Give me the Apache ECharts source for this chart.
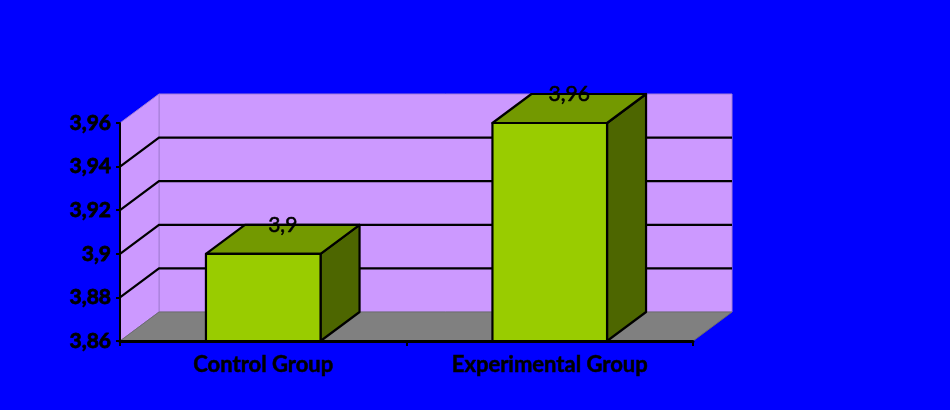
<!DOCTYPE html>
<html>
<head>
<meta charset="utf-8">
<script src="https://cdn.jsdelivr.net/npm/echarts@6/dist/echarts.min.js"></script>
<style>
  html, body { margin: 0; padding: 0; background: #0000FF; }
  #chart { width: 950px; height: 410px; }
</style>
</head>
<body>
<div id="chart"></div>
<script>
// Group means
const categories = ['Control Group', 'Experimental Group'];
const meanValues = [3.9, 3.96];

// Value axis range and the interior gridlines drawn on the walls
const yMin = 3.86;
const yMax = 3.96;
const yStep = 0.02;
const gridValues = [3.88, 3.90, 3.92, 3.94];

// Depth of the 3D box (screen offset of the back plane)
const DX = 39;
const DY = -29;
const FONT = 'Lato, "Open Sans", sans-serif';

const fmt = v => Number(v).toFixed(2).replace(/0+$/, '').replace(/\.$/, '').replace('.', ',');

const chart = echarts.init(document.getElementById('chart'));

chart.setOption({
  backgroundColor: '#0000FF',
  animation: false,
  grid: { left: 120, right: 257, top: 123, bottom: 69, containLabel: false },
  xAxis: {
    type: 'category',
    data: categories,
    z: 10,
    axisLine: { show: true, lineStyle: { color: '#000', width: 3 } },
    axisTick: { show: true, length: 5, lineStyle: { color: '#000', width: 2 } },
    axisLabel: { color: '#000', fontFamily: FONT, fontWeight: 'bold', fontSize: 22, margin: 13,
                 textBorderColor: '#000', textBorderWidth: 0.5 },
    splitLine: { show: false }
  },
  yAxis: {
    type: 'value',
    min: yMin,
    max: yMax,
    interval: yStep,
    z: 10,
    axisLine: { show: true, lineStyle: { color: '#000', width: 2 } },
    axisTick: { show: true, length: 4, lineStyle: { color: '#000', width: 2 } },
    axisLabel: { color: '#000', fontFamily: FONT, fontWeight: 'bold', fontSize: 21, margin: 9, formatter: fmt,
                 textBorderColor: '#000', textBorderWidth: 0.8 },
    splitLine: { show: false }
  },
  series: [
    {
      // side wall, back wall and floor
      type: 'custom',
      z: 1,
      silent: true,
      data: [[0, yMin]],
      renderItem: function (params, api) {
        const cs = params.coordSys;
        const x0 = cs.x, x1 = cs.x + cs.width;
        const yT = api.coord([0, yMax])[1];
        const yB = api.coord([0, yMin])[1];
        const edge = { stroke: '#A47FD6', lineWidth: 1 };
        return {
          type: 'group',
          children: [
            { type: 'polygon', shape: { points: [[x0 + DX, yT + DY], [x1 + DX, yT + DY], [x1 + DX, yB + DY], [x0 + DX, yB + DY]] },
              style: Object.assign({ fill: '#CC99FF' }, edge) },
            { type: 'polygon', shape: { points: [[x0, yT], [x0 + DX, yT + DY], [x0 + DX, yB + DY], [x0, yB]] },
              style: Object.assign({ fill: '#CC99FF' }, edge) },
            { type: 'polygon', shape: { points: [[x0, yB], [x0 + DX, yB + DY], [x1 + DX, yB + DY], [x1, yB]] },
              style: { fill: '#808080', stroke: '#6E6E6E', lineWidth: 1 } }
          ]
        };
      }
    },
    {
      // gridlines across the side and back walls
      type: 'custom',
      z: 2,
      silent: true,
      data: gridValues.map(v => [0, v]),
      renderItem: function (params, api) {
        const cs = params.coordSys;
        const x0 = cs.x, x1 = cs.x + cs.width;
        const y = api.coord([0, api.value(1)])[1];
        return {
          type: 'polyline',
          shape: { points: [[x0, y], [x0 + DX, y + DY], [x1 + DX, y + DY]] },
          style: { stroke: '#000', lineWidth: 2.2, fill: null }
        };
      }
    },
    {
      // 3D bars with value labels
      type: 'custom',
      z: 3,
      data: meanValues.map((v, i) => [i, v]),
      encode: { x: 0, y: 1 },
      renderItem: function (params, api) {
        const val = api.value(1);
        const top = api.coord([api.value(0), val]);
        const base = api.coord([api.value(0), yMin]);
        const w = api.size([1, 0])[0] * 0.4;
        const xl = top[0] - w / 2, xr = top[0] + w / 2;
        const yt = top[1], yb = base[1];
        const line = { stroke: '#000', lineWidth: 2.2, lineJoin: 'round' };
        return {
          type: 'group',
          children: [
            { type: 'polygon', shape: { points: [[xr, yt], [xr + DX, yt + DY], [xr + DX, yb + DY], [xr, yb]] },
              style: Object.assign({ fill: '#4D6600' }, line) },
            { type: 'polygon', shape: { points: [[xl, yt], [xl + DX, yt + DY], [xr + DX, yt + DY], [xr, yt]] },
              style: Object.assign({ fill: '#739900' }, line) },
            { type: 'rect', shape: { x: xl, y: yt, width: w, height: yb - yt },
              style: Object.assign({ fill: '#99CC00' }, line) },
            { type: 'text', x: top[0] + DX / 2, y: yt + DY,
              style: { text: fmt(val), fill: '#000', font: 'normal 21px ' + FONT, align: 'center', verticalAlign: 'middle',
                       stroke: '#000', lineWidth: 0.6 } }
          ]
        };
      }
    }
  ]
});
</script>
</body>
</html>
